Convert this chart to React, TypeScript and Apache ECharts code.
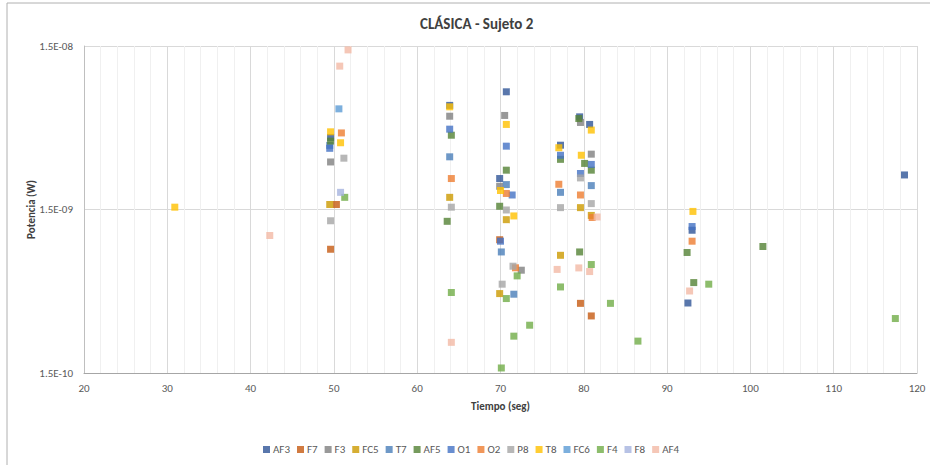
import React, { useEffect, useRef } from "react";
import * as echarts from "echarts";

const TITLE = "CLÁSICA - Sujeto 2";
const X_NAME = "Tiempo (seg)";
const Y_NAME = "Potencia (W)";
const X_MIN = 20;
const X_MAX = 120;
const X_STEP = 10;
// y axis ticks: 1.5E-10, 1.5E-09, 1.5E-08
const Y_MANTISSA = 1.5;
const Y_MIN = 1.5e-10;
const Y_MAX = 1.5e-8;

const SERIES_NAMES = ["AF3", "F7", "F3", "FC5", "T7", "AF5", "O1", "O2", "P8", "T8", "FC6", "F4", "F8", "AF4"];
const COLORS = ["#2F5597", "#C55A11", "#7F7F7F", "#CC9A00", "#4A7EB9", "#548235", "#4472C4", "#ED7D31", "#A5A5A5", "#FFC000", "#5B9BD5", "#70AD47", "#A5B3DE", "#F3B9A5"];

const AF3 = [[49.6, 4.14e-9], [63.9, 6.5e-9], [70.7, 7.87e-9], [69.9, 2.32e-9], [77.2, 3.71e-9], [79.5, 5.53e-9], [80.7, 4.97e-9], [92.5, 4.02e-10], [93.0, 1.12e-9], [118.5, 2.44e-9]];
const F7 = [[50.3, 1.61e-9], [49.6, 8.57e-10], [69.9, 9.8e-10], [79.6, 4.0e-10], [80.9, 3.35e-10]];
const F3 = [[49.6, 2.93e-9], [63.9, 5.58e-9], [70.5, 5.64e-9], [79.6, 5.11e-9], [80.9, 3.27e-9], [72.5, 6.38e-10], [69.9, 2.08e-9]];
const FC5 = [[49.5, 1.61e-9], [63.9, 1.78e-9], [70.7, 1.30e-9], [69.9, 4.59e-10], [77.2, 7.87e-10], [79.6, 1.54e-9], [80.9, 1.38e-9]];
const T7 = [[49.5, 3.7e-9], [63.9, 3.15e-9], [70.7, 2.13e-9], [70.1, 8.25e-10], [71.6, 4.55e-10], [77.2, 1.91e-9], [80.9, 2.1e-9]];
const AF5 = [[49.6, 3.93e-9], [64.1, 4.27e-9], [63.6, 1.27e-9], [70.7, 2.61e-9], [69.9, 1.57e-9], [77.2, 3.04e-9], [79.4, 5.4e-9], [80.1, 2.87e-9], [80.9, 2.61e-9], [79.5, 8.25e-10], [92.4, 8.19e-10], [93.2, 5.36e-10], [101.5, 8.91e-10]];
const O1 = [[49.5, 3.55e-9], [63.9, 4.65e-9], [70.7, 3.66e-9], [71.4, 1.84e-9], [70.0, 9.6e-10], [77.2, 3.22e-9], [80.9, 2.83e-9], [79.6, 2.49e-9], [93.0, 1.18e-9]];
const O2 = [[50.9, 4.41e-9], [64.1, 2.32e-9], [70.7, 1.88e-9], [71.8, 6.6e-10], [77.0, 2.14e-9], [79.6, 1.84e-9], [81.0, 1.34e-9], [93.0, 9.6e-10]];
const P8 = [[51.2, 3.09e-9], [49.6, 1.28e-9], [64.1, 1.55e-9], [70.7, 1.49e-9], [71.5, 6.75e-10], [70.2, 5.24e-10], [77.2, 1.54e-9], [79.6, 2.34e-9], [80.9, 1.63e-9]];
const T8 = [[30.9, 1.55e-9], [49.6, 4.48e-9], [50.8, 3.84e-9], [63.9, 6.37e-9], [70.7, 4.97e-9], [70.0, 1.96e-9], [71.6, 1.37e-9], [77.0, 3.58e-9], [80.9, 4.59e-9], [79.7, 3.22e-9], [93.1, 1.46e-9]];
const FC6 = [[50.6, 6.19e-9]];
const F4 = [[51.3, 1.78e-9], [64.1, 4.66e-10], [70.7, 4.28e-10], [72.0, 5.89e-10], [73.5, 2.94e-10], [71.6, 2.52e-10], [70.1, 1.61e-10], [77.2, 5.04e-10], [80.9, 6.91e-10], [83.2, 4.0e-10], [86.5, 2.35e-10], [95.0, 5.24e-10], [117.4, 3.23e-10]];
const F8 = [[50.8, 1.91e-9]];
const AF4 = [[51.7, 1.42e-8], [50.7, 1.13e-8], [42.3, 1.04e-9], [64.1, 2.31e-10], [76.8, 6.45e-10], [79.4, 6.59e-10], [80.7, 6.26e-10], [81.6, 1.35e-9], [92.7, 4.76e-10]];

const SERIES_DATA = [AF3, F7, F3, FC5, T7, AF5, O1, O2, P8, T8, FC6, F4, F8, AF4];

const FONT = "Carlito, Lato, sans-serif";

function fmtY(v: number): string {
  const e = Math.round(Math.log10(v));
  const s = e < 0 ? "-" : "+";
  return Y_MANTISSA.toFixed(1) + "E" + s + String(Math.abs(e)).padStart(2, "0");
}

export default function App() {
  const ref = useRef<HTMLDivElement>(null);
  useEffect(() => {
    if (!ref.current) return;
    const chart = echarts.init(ref.current, null, { renderer: "svg" });
    const option = {
      animation: false,
      backgroundColor: "#FFFFFF",
      title: {
        text: TITLE,
        left: 415,
        top: 11,
        textStyle: { fontFamily: FONT, fontSize: 15, fontWeight: "bold", color: "#404040" },
      },
      graphic: [
        {
          type: "rect",
          shape: { x: 7, y: 3, width: 1000, height: 1000 },
          style: { fill: "none", stroke: "#B0B0B0", lineWidth: 1 },
          silent: true,
        },
      ],
      grid: { left: 84, right: 13, top: 46, bottom: 92 },
      legend: {
        data: SERIES_NAMES,
        left: 258,
        top: 439,
        itemWidth: 7,
        itemHeight: 7,
        itemGap: 7,
        icon: "rect",
        textStyle: { fontFamily: FONT, fontSize: 11, color: "#595959", padding: [0, 0, 0, -2] },
      },
      xAxis: {
        type: "value",
        min: X_MIN,
        max: X_MAX,
        interval: X_STEP,
        name: X_NAME,
        nameLocation: "middle",
        nameGap: 28,
        nameMoveOverlap: false,
        nameTextStyle: { fontFamily: FONT, fontSize: 11, fontWeight: "bold", color: "#404040" },
        axisLine: { show: true, lineStyle: { color: "#A6A6A6" } },
        axisTick: { show: false },
        axisLabel: { fontFamily: FONT, fontSize: 11, color: "#595959", margin: 10 },
        splitLine: { show: true, lineStyle: { color: "#D9D9D9" } },
        minorTick: { show: false, splitNumber: 5 },
        minorSplitLine: { show: true, lineStyle: { color: "#F0F0F0" } },
      },
      yAxis: {
        type: "log",
        logBase: 10,
        min: Y_MIN / Y_MANTISSA,
        max: Y_MAX / Y_MANTISSA,
        name: Y_NAME,
        nameLocation: "middle",
        nameRotate: 90,
        nameGap: 47,
        nameMoveOverlap: false,
        nameTextStyle: { fontFamily: FONT, fontSize: 11, fontWeight: "bold", color: "#404040" },
        axisLine: { show: true, lineStyle: { color: "#BFBFBF" } },
        axisTick: { show: false },
        axisLabel: { fontFamily: FONT, fontSize: 11, color: "#595959", margin: 11, formatter: (v: number) => fmtY(v) },
        splitLine: { show: true, lineStyle: { color: "#D9D9D9" } },
      },
      series: SERIES_NAMES.map((name, i) => ({
        name,
        type: "scatter",
        symbol: "rect",
        symbolSize: 7,
        itemStyle: { color: COLORS[i] },
        data: SERIES_DATA[i].map(([t, v]) => [t, v / Y_MANTISSA]),
      })),
    };
    chart.setOption(option as any);
    return () => chart.dispose();
  }, []);
  return <div ref={ref} style={{ position: "fixed", left: 0, top: 0, width: 930, height: 465 }} />;
}
